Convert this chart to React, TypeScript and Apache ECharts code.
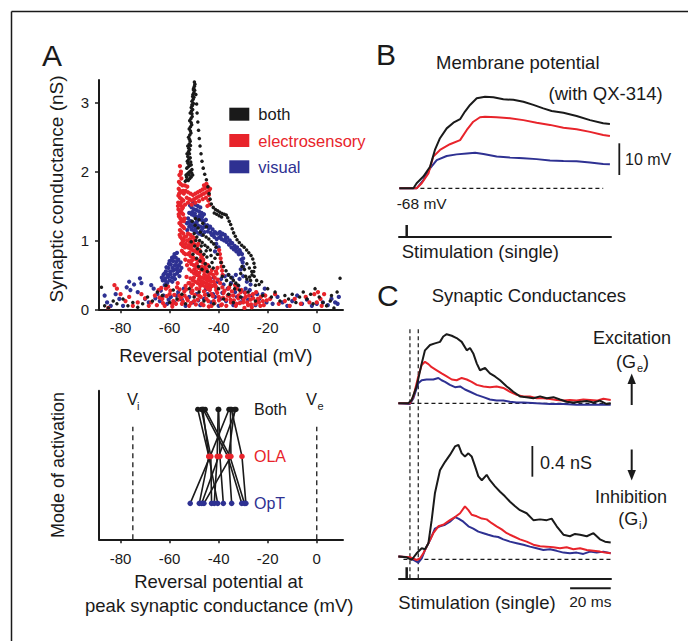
import React, { useEffect, useRef } from 'react';
import * as echarts from 'echarts';

const FONT = '"Liberation Sans", Arial, Helvetica, sans-serif';
const INK = '#1a1a1a';
const RED = '#e8242b';
const BLUE = '#2e3192';

// ---------- Panel A (top): reversal potential vs synaptic conductance ----------
const xTicksA = [-80, -60, -40, -20, 0];
const yTicksA = [0, 1, 2, 3];

const bothPts = [
  [-53.6,1.86],[-53.0,1.88],[-52.4,1.87],[-51.8,1.9],[-51.2,1.92],[-50.6,1.95],
  [-53.3,1.95],[-52.7,1.97],[-52.1,1.99],[-51.5,2.01],[-50.9,2.03],
  [-53.0,2.05],[-52.4,2.07],[-51.8,2.09],[-51.2,2.1],
  [-52.8,2.15],[-52.2,2.18],[-51.6,2.2],[-52.9,2.26],[-52.3,2.29],[-51.8,2.32],
  [-52.6,2.37],[-52.0,2.4],[-51.6,2.44],[-52.3,2.5],[-51.8,2.53],[-51.3,2.56],
  [-52.0,2.62],[-51.5,2.65],[-51.0,2.68],[-51.8,2.74],[-51.3,2.77],[-50.8,2.8],
  [-51.6,2.85],[-51.1,2.88],[-50.6,2.9],[-51.2,2.93],[-50.7,2.96],[-50.3,2.99],
  [-50.9,3.02],[-50.4,3.05],[-50.1,3.08],[-50.5,3.12],[-50.1,3.15],[-49.8,3.18],
  [-50.2,3.21],[-49.9,3.24],[-49.7,3.27],[-49.9,3.3],
  [-53.1,1.92],[-52.0,1.95],[-51.0,1.98],[-52.5,2.12],[-51.4,2.14],[-52.6,2.22],[-51.9,2.26],
  [-52.2,2.34],[-51.5,2.38],[-51.9,2.47],[-51.5,2.59],[-51.2,2.71],[-50.9,2.84],[-50.9,2.97],
  [-50.6,3.09],[-50.3,3.19],
  [-49.3,3.12],[-49.0,2.98],[-48.8,2.85],[-48.5,2.72],[-48.2,2.6],[-47.9,2.48],[-47.6,2.37],
  [-47.2,2.26],[-46.8,2.15],[-46.3,2.05],[-45.7,1.96],[-45.0,1.88],[-44.4,1.78],[-43.9,1.68],
  [-43.5,1.6],[-43.0,1.53],[-42.2,1.48],[-41.3,1.45],[-40.4,1.43],[-39.5,1.41],[-38.6,1.39],
  [-37.7,1.38],[-36.9,1.37],[-36.3,1.33],[-35.7,1.28],[-35.1,1.23],[-34.5,1.17],[-33.9,1.11],
  [-33.2,1.06],[-32.5,1.01],[-31.6,0.97],[-30.6,0.93],[-29.6,0.9],[-28.6,0.86],[-27.7,0.82],
  [-26.8,0.78],[-26.1,0.73],[-25.6,0.67],[-25.3,0.61],[-25.7,0.55],[-26.4,0.5],[-27.4,0.47],[-28.5,0.44],
  [-41.8,1.4],[-40.8,1.38],[-39.8,1.36],[-38.8,1.34],
  [-50.8,1.28],[-49.6,1.22],[-48.4,1.18],[-47.5,1.12],[-46.3,1.08],[-45.1,1.05],[-44.0,1.02],
  [-43.0,0.98],[-42.0,0.95],[-41.1,0.9],[-50.0,1.1],[-48.9,1.05],[-47.8,1.0],[-46.7,0.97],
  [-45.6,0.93],[-44.5,0.9],[-43.4,0.86],[-51.2,0.98],[-49.8,0.92],[-48.6,0.88],[-47.3,0.84],
  [-46.0,0.8],[-44.8,0.76],[-50.5,0.8],[-49.0,0.74],[-47.6,0.7],[-45.5,0.66],[-43.8,0.62],
  [-42.2,0.6],[-49.5,1.32],[-48.0,1.3],[-46.5,1.25],[-45.0,1.2],
  [-49.3,1.0],[-47.1,0.92],[-45.1,0.85],[-43.1,0.78],[-41.5,0.74],[-40.5,0.8],[-48.2,0.62],
  [-46.8,0.58],[-44.6,0.55],[-42.7,0.68],
  [-39.0,0.68],[-38.0,0.62],[-37.0,0.56],[-36.0,0.5],[-35.0,0.46],[-34.0,0.42],[-33.0,0.38],
  [-32.0,0.35],[-38.5,0.48],[-36.8,0.42],[-35.2,0.36],[-33.5,0.3],[-31.5,0.28],
  [-30.5,0.62],[-29.5,0.58],[-28.5,0.66],[-27.5,0.6],[-26.5,0.55],[-25.5,0.48],[-24.5,0.42],
  [-23.5,0.36],[-22.5,0.4],[-31.0,0.52],[-29.0,0.48],[-27.0,0.42],[-25.0,0.35],
  [-87.8,0.32],[-86.5,0.05],[-85.0,0.02],[-83.0,0.12],[-81.5,0.08],[-79.0,0.15],[-77.0,0.05],
  [-75.0,0.1],[-73.0,0.03],[-71.0,0.08],[-69.0,0.18],[-67.0,0.12],[-65.0,0.25],[-63.0,0.2],
  [-61.5,0.35],[-60.0,0.1],[-58.5,0.28],[-57.0,0.15],[-55.0,0.22],[-53.5,0.08],[-52.0,0.3],
  [-50.0,0.18],[-48.0,0.25],[-46.0,0.12],[-44.0,0.2],[-42.0,0.08],[-40.0,0.3],[-38.0,0.15],
  [-36.0,0.22],[-34.0,0.1],[-31.0,0.18],[-28.0,0.25],[-25.0,0.12],[-22.0,0.2],[-20.0,0.3],
  [-18.5,0.18],[-17.0,0.25],[-15.0,0.12],[-13.0,0.2],[-11.5,0.15],[-10.0,0.22],[-8.5,0.1],
  [-7.0,0.18],[-5.5,0.25],[-4.0,0.15],[-2.5,0.22],[-0.7,0.3],[1.0,0.18],[2.5,0.1],[4.0,0.05],
  [5.5,0.12],[7.0,0.02],[8.3,0.25],[9.5,0.45],[6.0,0.2],[-1.5,0.08]
];

const elecPts = [
  [-55.8,2.08],[-55.4,2.0],[-56.0,1.95],[-55.2,1.9],[-56.2,1.85],[-55.6,1.82],[-54.8,1.8],
  [-56.3,1.75],[-55.7,1.72],[-55.0,1.7],[-54.2,1.68],[-56.4,1.65],[-55.8,1.62],[-55.1,1.6],
  [-54.4,1.58],[-56.5,1.55],[-55.9,1.52],[-55.2,1.5],[-54.6,1.48],[-56.4,1.45],[-55.8,1.42],
  [-55.1,1.4],[-54.5,1.38],[-56.2,1.35],[-55.6,1.32],[-54.9,1.3],[-54.2,1.28],[-56.0,1.25],
  [-55.3,1.22],[-54.6,1.2],[-55.8,1.15],[-55.1,1.12],[-54.4,1.1],[-55.6,1.05],[-54.9,1.02],
  [-54.2,1.0],[-55.3,0.95],[-54.6,0.92],[-53.8,0.9],[-55.0,0.85],[-54.3,0.82],[-53.6,0.8],
  [-55.5,1.97],[-56.1,1.68],[-54.5,1.72],[-55.4,1.55],[-54.9,1.46],[-56.3,1.38],[-55.4,1.27],
  [-54.1,1.18],[-55.9,1.08],[-54.8,0.97],[-53.9,1.05],[-56.6,1.5],[-53.9,1.32],[-53.7,1.52],
  [-53.5,1.72],[-52.5,1.7],[-51.5,1.68],[-50.5,1.66],[-49.5,1.68],[-48.5,1.7],[-47.5,1.72],
  [-46.5,1.74],[-45.5,1.76],[-44.5,1.78],[-43.5,1.75],[-53.0,1.62],[-52.0,1.6],[-51.0,1.58],
  [-50.0,1.6],[-49.0,1.62],[-48.0,1.64],[-47.0,1.66],[-46.0,1.68],[-45.0,1.7],[-44.0,1.66],
  [-52.5,1.55],[-51.0,1.52],[-49.5,1.55],[-48.0,1.57],[-46.5,1.6],[-45.2,1.62],[-44.2,1.58],
  [-43.6,1.52],[-44.6,1.5],[-53.8,1.8],[-52.8,1.78],[-46.0,1.8],[-45.0,1.82],[-44.0,1.72],
  [-52.5,1.1],[-51.5,1.08],[-50.5,1.05],[-49.5,1.03],[-52.8,1.0],[-51.8,0.98],[-50.8,0.96],
  [-49.8,0.94],[-48.8,0.92],[-52.6,0.9],[-51.6,0.88],[-50.6,0.86],[-49.6,0.84],[-48.6,0.82],
  [-47.6,0.8],[-46.6,0.78],[-52.4,0.8],[-51.4,0.77],[-50.4,0.75],[-49.4,0.73],[-48.4,0.71],
  [-47.4,0.7],[-46.4,0.68],[-45.4,0.66],[-44.4,0.64],[-52.2,0.7],[-51.2,0.66],[-50.2,0.64],
  [-49.2,0.62],[-48.2,0.6],[-47.2,0.58],[-46.2,0.56],[-45.2,0.55],[-44.2,0.53],[-43.2,0.52],
  [-42.2,0.5],[-52.0,0.58],[-51.0,0.55],[-50.0,0.52],[-49.0,0.5],[-48.0,0.48],[-47.0,0.46],
  [-46.0,0.45],[-45.0,0.43],[-44.0,0.42],[-43.0,0.4],[-42.0,0.4],[-51.5,0.45],[-50.5,0.42],
  [-49.5,0.4],[-48.5,0.38],[-47.5,0.36],[-46.5,0.35],[-45.5,0.33],[-44.5,0.32],[-43.5,0.31],
  [-51.7,1.02],[-50.3,0.99],[-49.1,0.87],[-48.3,0.95],[-47.8,0.86],[-47.1,0.75],[-46.3,0.72],
  [-45.7,0.61],[-44.9,0.58],[-44.1,0.47],[-43.4,0.45],[-42.8,0.57],[-41.6,0.46],[-41.1,0.55],
  [-40.4,0.43],[-52.9,0.64],[-51.9,0.82],[-50.9,0.71],[-49.9,0.58],[-48.9,0.66],[-47.9,0.53],
  [-46.9,0.62],[-45.9,0.5],[-44.9,0.38],[-43.9,0.36],[-42.6,0.34],[-53.1,0.47],[-52.3,0.38],
  [-51.2,0.33],[-50.1,0.46],[-49.2,0.55],[-48.1,0.43],[-47.2,0.41],[-46.1,0.39],[-45.1,0.48],
  [-53.4,0.95],[-53.6,0.72],[-53.2,1.06],[-52.1,0.93],[-51.1,0.91],
  [-39.8,0.86],[-39.5,0.8],[-39.2,0.74],[-39.0,0.68],[-38.8,0.62],[-38.6,0.56],[-38.4,0.5],
  [-40.5,0.6],[-40.8,0.52],
  [-67.5,0.1],[-66.0,0.2],[-64.5,0.28],[-63.0,0.15],[-61.5,0.3],[-60.0,0.22],[-58.5,0.12],
  [-57.0,0.32],[-56.0,0.2],[-55.0,0.08],[-54.0,0.26],[-53.0,0.16],[-52.0,0.05],[-51.0,0.24],
  [-50.0,0.12],[-49.0,0.3],[-48.0,0.2],[-47.0,0.08],[-46.0,0.26],[-45.0,0.15],[-44.0,0.04],
  [-43.0,0.22],[-42.0,0.12],[-41.0,0.28],[-40.0,0.18],[-39.0,0.06],[-38.0,0.24],[-37.0,0.14],
  [-36.0,0.3],[-35.0,0.1],[-34.0,0.2],[-33.0,0.05],[-32.0,0.16],[-31.0,0.25],[-30.0,0.1],
  [-29.0,0.18],[-28.0,0.06],[-27.0,0.14],[-26.0,0.22],[-25.0,0.08],[-24.0,0.15],[-23.0,0.05],
  [-22.0,0.12],[-21.0,0.2],[-62.0,0.05],[-59.0,0.08],[-56.5,0.14],[-53.5,0.34],[-50.5,0.36],
  [-47.5,0.34],[-44.5,0.3],[-41.5,0.36],[-38.5,0.32],[-35.5,0.2],[-32.5,0.3],[-29.5,0.02],[-26.5,0.03],
  [-65.2,0.06],[-64.1,0.17],[-63.4,0.31],[-62.7,0.09],[-61.2,0.19],[-60.6,0.33],[-59.7,0.27],
  [-58.9,0.04],[-58.1,0.21],[-57.4,0.08],[-56.7,0.38],[-55.9,0.29],[-55.3,0.17],[-54.6,0.11],
  [-53.9,0.2],[-53.2,0.29],[-52.6,0.13],[-51.8,0.38],[-51.3,0.09],[-50.7,0.27],[-49.8,0.21],
  [-49.3,0.07],[-48.6,0.14],[-47.9,0.29],[-47.3,0.18],[-46.7,0.4],[-46.2,0.06],[-45.6,0.21],
  [-44.8,0.36],[-44.2,0.12],[-43.6,0.28],[-42.9,0.05],[-42.4,0.19],[-41.7,0.09],[-41.2,0.33],
  [-40.6,0.24],[-39.9,0.13],[-39.4,0.38],[-38.7,0.07],[-38.2,0.17],[-37.6,0.27],[-36.9,0.05],
  [-36.3,0.2],[-35.7,0.32],[-35.2,0.14],[-34.6,0.26],[-33.8,0.13],[-33.3,0.35],[-32.7,0.08],
  [-31.9,0.2],[-31.4,0.09],[-30.7,0.28],[-29.8,0.14],[-29.2,0.24],[-28.4,0.1],[-27.6,0.2],
  [-26.8,0.07],[-25.9,0.16],[-24.7,0.25],[-23.6,0.1],[-22.8,0.18],[-21.6,0.06],[-20.4,0.13],
  [-85.0,0.02],[-82.5,0.35],[-81.5,0.3],[-80.0,0.22],[-78.0,0.12],[-76.5,0.18],[-75.0,0.05],
  [-73.0,0.1],[-71.5,0.22],[-70.0,0.16],[-68.5,0.05],
  [-19.0,0.15],[-17.0,0.22],[-15.5,0.08],[-13.0,0.12],[-11.0,0.05],[-9.0,0.15],[-6.5,0.08],
  [-4.5,0.18],[-3.0,0.1],[-1.0,0.22],[0.5,0.25],[1.5,0.15],[2.0,0.05],[3.0,0.22],[0.0,0.1]
];

const visPts = [
  [-50.5,1.55],[-49.5,1.52],[-48.5,1.5],[-47.5,1.48],[-51.0,1.48],[-50.0,1.45],[-49.0,1.44],
  [-48.0,1.42],[-47.0,1.4],[-46.0,1.38],[-52.0,1.4],[-51.0,1.38],[-50.0,1.36],[-49.0,1.34],
  [-48.0,1.32],[-47.0,1.3],[-46.0,1.28],[-45.2,1.3],[-52.5,1.32],[-51.5,1.28],[-50.5,1.26],
  [-49.5,1.24],[-48.5,1.22],[-47.5,1.2],[-46.5,1.18],[-45.5,1.2],[-52.0,1.2],[-51.0,1.16],
  [-50.0,1.14],[-49.0,1.12],[-48.0,1.1],[-46.8,1.08],[-53.0,1.25],[-52.8,1.15],[-44.6,1.22],[-44.0,1.18],
  [-51.7,1.51],[-50.8,1.41],[-49.7,1.39],[-48.8,1.28],[-47.8,1.36],[-46.8,1.34],[-45.9,1.23],
  [-49.3,1.18],[-50.4,1.2],[-51.4,1.22],[-52.3,1.26],[-47.2,1.14],[-45.8,1.12],[-44.4,1.13],
  [-43.2,1.11],[-42.0,1.09],[-39.1,1.07],[-37.1,1.03],[-35.1,0.97],[-33.1,0.88],[-31.2,0.83],[-30.7,0.72],
  [-43.5,1.2],[-42.5,1.16],[-41.5,1.12],[-40.5,1.1],[-39.5,1.12],[-38.5,1.1],[-37.5,1.08],
  [-36.5,1.04],[-35.5,1.0],[-34.5,0.96],[-33.5,0.92],[-32.5,0.9],[-31.5,0.86],[-30.5,0.8],
  [-30.0,0.74],[-30.2,0.68],[-42.8,1.08],[-41.8,1.05],[-40.8,1.02],[-39.8,1.04],[-38.8,1.02],
  [-37.8,1.0],[-36.8,0.98],[-35.8,0.94],[-34.8,0.9],[-33.8,0.87],[-32.8,0.84],[-31.8,0.8],
  [-41.0,0.95],[-40.0,0.9],[-41.5,0.84],
  [-62.5,0.5],[-61.5,0.55],[-60.5,0.6],[-59.5,0.65],[-58.5,0.7],[-57.5,0.75],[-56.5,0.72],
  [-55.5,0.68],[-62.8,0.42],[-61.8,0.45],[-60.8,0.5],[-59.8,0.55],[-58.8,0.6],[-57.8,0.64],
  [-56.8,0.6],[-55.8,0.56],[-62.0,0.35],[-61.0,0.38],[-60.0,0.42],[-59.0,0.46],[-58.0,0.5],
  [-57.0,0.52],[-56.0,0.48],[-59.0,0.75],[-58.0,0.8],[-57.0,0.82],[-60.0,0.7],
  [-63.2,0.46],[-62.1,0.52],[-61.3,0.61],[-60.3,0.66],[-59.3,0.71],[-58.3,0.76],[-57.2,0.69],
  [-56.2,0.64],[-61.6,0.41],[-60.6,0.47],[-59.6,0.51],[-58.6,0.56],[-57.6,0.58],[-56.6,0.55],
  [-55.2,0.6],[-58.9,0.4],[-57.8,0.44],
  [-45.0,0.45],[-43.5,0.42],[-42.0,0.46],[-40.5,0.4],[-39.0,0.44],[-37.5,0.48],[-36.0,0.5],
  [-34.5,0.46],[-33.0,0.5],[-31.5,0.44],[-30.0,0.48],[-28.5,0.4],[-27.0,0.36],[-44.0,0.34],
  [-41.0,0.32],[-38.0,0.36],[-35.0,0.38],[-32.0,0.34],[-29.0,0.3],[-31.0,0.58],[-30.0,0.62],
  [-66.5,0.3],[-65.0,0.22],[-64.0,0.12],[-62.5,0.2],[-61.0,0.08],[-59.5,0.18],[-58.0,0.1],
  [-56.5,0.25],[-55.0,0.14],[-53.5,0.05],[-52.0,0.18],[-50.5,0.1],[-49.0,0.22],[-47.5,0.06],
  [-46.0,0.15],[-44.5,0.22],[-43.0,0.1],[-41.5,0.18],[-40.0,0.05],[-38.5,0.24],[-37.0,0.12],
  [-35.5,0.2],[-34.0,0.06],[-32.5,0.18],[-31.0,0.1],[-29.5,0.25],[-28.0,0.14],[-26.5,0.2],
  [-25.0,0.06],[-23.5,0.15],[-22.0,0.22],[-20.5,0.1],
  [-65.8,0.16],[-63.6,0.27],[-60.4,0.14],[-57.3,0.2],[-54.2,0.3],[-51.2,0.25],[-48.3,0.13],
  [-45.2,0.29],[-42.3,0.22],[-39.3,0.15],[-36.3,0.3],[-33.3,0.25],[-30.3,0.16],[-27.3,0.28],
  [-24.3,0.22],[-21.2,0.3],
  [-86.5,0.2],[-85.5,0.1],[-84.0,0.05],[-82.0,0.22],[-80.5,0.15],[-79.0,0.05],[-77.5,0.32],
  [-76.0,0.28],[-74.5,0.36],[-73.0,0.25],[-71.5,0.38],[-70.0,0.15],[-68.5,0.1],[-67.5,0.35],
  [-72.1,0.45],[-76.5,0.4],
  [-18.0,0.08],[-16.0,0.18],[-14.0,0.1],[-12.0,0.05],[-10.0,0.12],[-8.0,0.2],[-6.0,0.08],
  [-4.0,0.14],[-2.0,0.05],[0.0,0.08],[2.5,0.1],[4.5,0.06],[6.0,0.15],[7.5,0.1],[8.5,0.08],[9.0,0.18]
];

// ---------- Panel A (bottom): mode of activation ----------
const modeLevels = { Both: 3, OLA: 2, OpT: 1 };
const cellBoth = [-48.5, -47.0, -46.3, -45.5, -40.2, -40.0, -35.8, -35.2, -34.8, -33.0, -33.5, -46.5];
const cellOLA  = [-44.0, -43.2, -36.3, -35.4, -40.6, -39.5, -43.5, -35.0, -30.5, -40.0, -36.0, -44.0];
const cellOpT  = [-47.9, -42.9, -30.6, -29.5, -41.8, -38.1, -51.6, -46.0, -28.9, -46.9, -34.7, -40.4];
const V_I = -75;
const V_E = 0;

// ---------- Panel B: membrane potential (ms, mV above -68 mV) ----------
const bBlack = [[-3.6,0],[3.3,0],[4.9,1.6],[8.2,3.7],[11.5,6.8],[13.9,12.1],[16.4,15.8],[19.7,18.9],
  [23.0,20.7],[26.3,21.8],[28.7,24.2],[31.2,26.3],[34.5,28.4],[38.6,28.9],[42.7,28.7],[47.6,28.1],
  [52.5,27.9],[57.5,27.3],[62.4,26.3],[67.3,25.2],[71.4,24.4],[77.2,23.8],[83.7,22.8],[90.3,21.5],
  [96.8,20.5],[100.1,20.3]];
const bRed = [[-3.6,0],[4.9,0],[7.4,1.6],[10.7,4.7],[13.1,10.0],[16.4,12.1],[21.3,13.9],[26.3,15.2],
  [29.6,18.4],[32.8,21.0],[36.1,22.4],[38.6,22.6],[44.3,22.4],[50.9,22.1],[57.5,21.5],[64.0,20.7],
  [70.6,20.0],[77.2,19.1],[83.7,18.6],[90.3,17.8],[96.8,16.8],[100.1,16.5]];
const bBlue = [[-3.6,0],[4.9,0],[8.2,2.6],[11.5,6.3],[14.8,8.9],[19.7,10.2],[24.6,10.7],[29.6,11.0],
  [33.7,11.2],[37.8,10.8],[44.3,10.0],[50.9,9.7],[57.5,9.5],[64.0,9.2],[70.6,8.8],[77.2,8.6],
  [83.7,8.5],[90.3,8.1],[96.8,7.7],[100.1,7.6]];

// ---------- Panel C: synaptic conductances (ms, nS) ----------
const geBlack = [[-4.1,0],[0.8,0],[2.4,0.04],[4.9,0.22],[7.4,0.52],[9.0,0.69],[11.5,0.76],[13.9,0.78],
  [16.4,0.80],[18.0,0.87],[19.7,0.90],[22.2,0.88],[24.6,0.85],[27.1,0.80],[29.6,0.69],[31.2,0.72],
  [32.8,0.65],[34.5,0.52],[36.1,0.43],[38.6,0.46],[41.0,0.39],[43.5,0.35],[46.0,0.30],[49.3,0.22],
  [52.5,0.15],[55.8,0.09],[59.1,0.08],[62.4,0.065],[65.7,0.09],[69.0,0.065],[72.3,0.08],[75.5,0.05],
  [78.8,0.02],[82.1,0.01],[85.4,0.02],[88.7,0.03],[92.0,0.01],[95.2,0.035],[98.5,-0.01],[100.5,0]];
const geRed = [[-4.1,0],[1.6,0],[3.3,0.09],[5.7,0.35],[7.4,0.50],[9.0,0.54],[10.7,0.51],[12.3,0.47],
  [14.8,0.43],[17.2,0.39],[19.7,0.35],[22.2,0.31],[24.6,0.30],[27.1,0.33],[29.6,0.31],[32.0,0.28],
  [34.5,0.24],[37.8,0.22],[41.0,0.21],[44.3,0.22],[47.6,0.20],[50.9,0.15],[54.2,0.11],[57.5,0.09],
  [60.7,0.09],[64.0,0.065],[67.3,0.065],[70.6,0.056],[73.9,0.043],[77.2,0.035],[80.4,0.043],
  [83.7,0.035],[87.0,0.05],[90.3,0.043],[93.6,0.035],[96.9,0.06],[100.5,0.043]];
const geBlue = [[-4.1,0],[1.6,-0.01],[3.3,0.065],[5.7,0.26],[7.4,0.30],[9.8,0.31],[13.1,0.31],
  [15.6,0.33],[17.2,0.30],[18.9,0.28],[21.3,0.24],[23.8,0.21],[26.3,0.22],[28.7,0.18],[31.2,0.15],
  [34.5,0.11],[37.8,0.08],[41.0,0.05],[44.3,0.035],[47.6,0.035],[50.9,0.02],[54.2,0.01],[57.5,0.01],
  [64.0,0],[70.6,-0.01],[77.2,-0.01],[83.7,-0.02],[90.3,-0.02],[96.9,-0.02],[100.5,-0.02]];
const giBlack = [[-4.1,0.035],[0,0.026],[2.4,-0.009],[4.9,0.078],[7.4,0.143],[9.0,0.13],[10.7,0.21],
  [12.3,0.51],[13.9,0.86],[16.4,1.16],[18.9,1.27],[21.3,1.36],[23.8,1.47],[25.5,1.49],[27.1,1.38],
  [28.7,1.34],[30.4,1.38],[32.0,1.34],[33.7,1.21],[35.3,1.08],[37.0,1.03],[39.4,1.10],[41.0,1.03],
  [43.5,0.95],[46.0,0.88],[48.4,0.82],[50.9,0.75],[53.4,0.69],[55.8,0.64],[59.1,0.60],[62.4,0.51],
  [65.7,0.52],[69.0,0.51],[71.4,0.53],[73.9,0.43],[77.2,0.32],[80.4,0.30],[82.9,0.33],[85.4,0.32],
  [88.7,0.30],[92.0,0.34],[95.2,0.26],[97.7,0.23],[100.5,0.22]];
const giRed = [[-4.1,0.035],[1.6,0.026],[4.9,-0.009],[6.6,0.013],[8.2,0.078],[10.7,0.21],[13.1,0.34],
  [15.6,0.43],[18.0,0.45],[21.3,0.51],[23.8,0.55],[26.3,0.60],[28.7,0.69],[30.4,0.64],[32.0,0.58],
  [34.5,0.56],[37.0,0.53],[39.4,0.52],[41.9,0.47],[44.3,0.43],[46.8,0.39],[49.3,0.34],[52.5,0.30],
  [55.8,0.26],[59.1,0.23],[62.4,0.19],[65.7,0.17],[69.0,0.165],[72.2,0.156],[75.5,0.143],[78.8,0.156],
  [82.1,0.13],[85.4,0.143],[88.7,0.12],[92.0,0.11],[95.2,0.10],[97.7,0.087],[100.5,0.078]];
const giBlue = [[-4.1,0.035],[0.8,0.026],[3.3,-0.009],[5.7,-0.043],[7.4,0.013],[9.0,0.12],[11.5,0.25],
  [13.9,0.40],[16.4,0.43],[18.9,0.45],[21.3,0.49],[23.8,0.55],[25.5,0.53],[27.9,0.49],[30.4,0.43],
  [32.8,0.40],[35.3,0.36],[37.8,0.34],[40.2,0.32],[42.7,0.30],[45.1,0.29],[47.6,0.26],[50.9,0.23],
  [54.2,0.21],[57.5,0.19],[60.7,0.165],[64.0,0.143],[67.3,0.12],[70.6,0.13],[73.9,0.11],[77.2,0.087],
  [80.4,0.078],[83.7,0.087],[87.0,0.07],[90.3,0.10],[93.6,0.087],[96.9,0.10],[100.5,0.078]];
const stimTimes = [1.6, 5.7]; // dashed markers (ms)
const scaleMs = 20;
const scaleNS = 0.4;

// ---------- helpers ----------
const txt = (text: string, x: number, y: number, size: number, o: any = {}) => ({
  type: 'text', x, y, silent: true, rotation: o.rotation || 0, z: 10,
  style: {
    text, fontSize: size, fontFamily: FONT, fill: o.color || INK,
    align: o.align || 'left', verticalAlign: 'middle',
  },
});
const gline = (x1: number, y1: number, x2: number, y2: number, w = 1.5) => ({
  type: 'line', silent: true, z: 10,
  shape: { x1, y1, x2, y2 }, style: { stroke: INK, lineWidth: w },
});
const lineSeries = (name: string, data: any, color: string, xi: number, w = 2, extra: any = {}) => ({
  type: 'line', name, xAxisIndex: xi, yAxisIndex: xi, data, symbol: 'none', silent: true,
  lineStyle: { color, width: w, ...(extra.lineStyle || {}) }, z: extra.z || 3,
  clip: extra.clip !== undefined ? extra.clip : true,
});

const hiddenAxis = (gi: number, min: number, max: number) => ({
  type: 'value', gridIndex: gi, min, max, show: false, splitLine: { show: false },
});

export default function App() {
  const ref = useRef<HTMLDivElement>(null);
  useEffect(() => {
    if (!ref.current) return;
    const chart = echarts.init(ref.current, null, { renderer: 'svg' });

    const axisLineStyle = { show: true, onZero: false, lineStyle: { color: INK, width: 2 } };
    const tMin = -3.79, tMax = 100.64;

    const cellLines = cellBoth.map((b, i) => lineSeries('cell' + i,
      [[b, modeLevels.Both], [cellOLA[i], modeLevels.OLA], [cellOpT[i], modeLevels.OpT]], INK, 1, 1.6, { z: 3 }));

    const option: any = {
      animation: false,
      backgroundColor: '#fff',
      textStyle: { fontFamily: FONT },
      grid: [
        { left: 99, top: 80, width: 244, height: 229.3, containLabel: false, outerBoundsMode: 'none' },
        { left: 99, top: 390.7, width: 244, height: 148.6, containLabel: false, outerBoundsMode: 'none' },
        { left: 399, top: 80, width: 212, height: 156.7, containLabel: false, outerBoundsMode: 'none' },
        { left: 399, top: 320, width: 212, height: 100, containLabel: false, outerBoundsMode: 'none' },
        { left: 399, top: 440, width: 212, height: 138.3, containLabel: false, outerBoundsMode: 'none' },
      ],
      xAxis: [
        {
          type: 'value', gridIndex: 0, min: -88.8, max: 10.7, axisLine: axisLineStyle,
          axisTick: { show: true, customValues: xTicksA, length: 4, lineStyle: { color: INK, width: 1.5 } },
          axisLabel: { customValues: xTicksA, fontSize: 15, color: INK, margin: 11, fontFamily: FONT },
          splitLine: { show: false },
        },
        {
          type: 'value', gridIndex: 1, min: -88.8, max: 10.7, axisLine: axisLineStyle,
          axisTick: { show: true, customValues: xTicksA, length: 4, lineStyle: { color: INK, width: 1.5 } },
          axisLabel: { customValues: xTicksA, fontSize: 15, color: INK, margin: 12, fontFamily: FONT },
          splitLine: { show: false },
        },
        {
          type: 'value', gridIndex: 2, min: tMin, max: tMax, axisLine: axisLineStyle,
          axisTick: { show: false }, axisLabel: { show: false }, splitLine: { show: false },
        },
        hiddenAxis(3, tMin, tMax),
        {
          type: 'value', gridIndex: 4, min: tMin, max: tMax, axisLine: axisLineStyle,
          axisTick: { show: false }, axisLabel: { show: false }, splitLine: { show: false },
        },
      ],
      yAxis: [
        {
          type: 'value', gridIndex: 0, min: 0, max: 3.33, axisLine: axisLineStyle,
          axisTick: { show: true, customValues: yTicksA, length: 4, lineStyle: { color: INK, width: 1.5 } },
          axisLabel: { customValues: yTicksA, fontSize: 15, color: INK, margin: 10, fontFamily: FONT },
          splitLine: { show: false },
        },
        {
          type: 'value', gridIndex: 1, min: 0.234, max: 3.4, axisLine: axisLineStyle,
          axisTick: { show: false }, axisLabel: { show: false }, splitLine: { show: false },
        },
        hiddenAxis(2, -15.27, 34.16),
        hiddenAxis(3, -0.2176, 1.085),
        hiddenAxis(4, -0.2476, 1.554),
      ],
      legend: {
        data: [
          { name: 'both', textStyle: { color: INK } },
          { name: 'electrosensory', textStyle: { color: RED } },
          { name: 'visual', textStyle: { color: BLUE } },
        ],
        orient: 'vertical', left: 229.3, top: 105.7, itemWidth: 20, itemHeight: 13, itemGap: 9.3,
        icon: 'rect', selectedMode: false, padding: 0,
        textStyle: { fontSize: 16.5, fontFamily: FONT, lineHeight: 13, padding: [0, 0, 0, 4] },
      },
      series: [
        // Panel A top
        { type: 'scatter', name: 'visual', xAxisIndex: 0, yAxisIndex: 0, data: visPts, symbolSize: 4.3,
          itemStyle: { color: BLUE, opacity: 1 }, silent: true, z: 2 },
        { type: 'scatter', name: 'electrosensory', xAxisIndex: 0, yAxisIndex: 0, data: elecPts, symbolSize: 4.3,
          itemStyle: { color: RED, opacity: 1 }, silent: true, z: 3 },
        { type: 'scatter', name: 'both', xAxisIndex: 0, yAxisIndex: 0, data: bothPts, symbolSize: 3.5,
          itemStyle: { color: INK, opacity: 1 }, silent: true, z: 4 },
        // Panel A bottom
        lineSeries('Vi', [[V_I, 0.234], [V_I, 2.63]], INK, 1, 1.3, { lineStyle: { type: [5, 4] } }),
        lineSeries('Ve', [[V_E, 0.234], [V_E, 2.63]], INK, 1, 1.3, { lineStyle: { type: [5, 4] } }),
        ...cellLines,
        { type: 'scatter', name: 'BothDots', xAxisIndex: 1, yAxisIndex: 1, symbolSize: 5.5, silent: true, z: 5,
          data: cellBoth.map(v => [v, modeLevels.Both]), itemStyle: { color: INK, opacity: 1 } },
        { type: 'scatter', name: 'OLADots', xAxisIndex: 1, yAxisIndex: 1, symbolSize: 5.5, silent: true, z: 5,
          data: cellOLA.map(v => [v, modeLevels.OLA]), itemStyle: { color: RED, opacity: 1 } },
        { type: 'scatter', name: 'OpTDots', xAxisIndex: 1, yAxisIndex: 1, symbolSize: 5.5, silent: true, z: 5,
          data: cellOpT.map(v => [v, modeLevels.OpT]), itemStyle: { color: BLUE, opacity: 1 } },
        // Panel B
        lineSeries('bBase', [[-3.6, 0], [96.8, 0]], INK, 2, 1.2, { lineStyle: { type: [4, 3] }, z: 2 }),
        lineSeries('bBlue', bBlue, BLUE, 2, 2),
        lineSeries('bRed', bRed, RED, 2, 2),
        lineSeries('bBlack', bBlack, INK, 2, 2),
        lineSeries('bStim', [[0, -15.27], [0, -11.58]], INK, 2, 2.5),
        // Panel C excitation
        lineSeries('geBase', [[-1.6, 0], [100.5, 0]], INK, 3, 1.2, { lineStyle: { type: [4, 3] }, z: 2 }),
        lineSeries('geBlue', geBlue, BLUE, 3, 2),
        lineSeries('geRed', geRed, RED, 3, 2),
        lineSeries('geBlack', geBlack, INK, 3, 2),
        // Panel C inhibition
        lineSeries('giBase', [[-1.6, 0], [100.5, 0]], INK, 4, 1.2, { lineStyle: { type: [4, 3] }, z: 2 }),
        lineSeries('giBlue', giBlue, BLUE, 4, 2),
        lineSeries('giRed', giRed, RED, 4, 2),
        lineSeries('giBlack', giBlack, INK, 4, 2),
        lineSeries('cStim', [[0, -0.2476], [0, -0.104]], INK, 4, 2.5),
        ...stimTimes.map((t, i) => lineSeries('stimMark' + i, [[t, -0.2476], [t, 3.0]], INK, 4, 1.2,
          { lineStyle: { type: [4, 3] }, clip: false, z: 2 })),
        lineSeries('nsScale', [[61.9, 1.076], [61.9, 1.076 + scaleNS]], INK, 4, 1.8, { clip: false }),
        lineSeries('msScale', [[100.5 - scaleMs, -0.378], [100.5, -0.378]], INK, 4, 2, { clip: false }),
      ],
      graphic: [
        gline(11.5, 11.5, 688, 11.5, 1.5),
        gline(11.5, 11.5, 11.5, 641, 1.5),
        txt('A', 42, 55, 30),
        txt('B', 376, 54, 30),
        txt('C', 377, 295, 30),
        // Panel A top titles
        txt('Reversal potential (mV)', 215.8, 355, 18.5, { align: 'center' }),
        txt('Synaptic conductance (nS)', 56.7, 189, 19, { align: 'center', rotation: Math.PI / 2 }),
        // Panel A bottom
        txt('V', 127, 399, 16.5),
        txt('i', 137, 405.5, 11),
        txt('V', 306, 399, 16.5),
        txt('e', 317.5, 406, 11),
        txt('Both', 254, 409, 16),
        txt('OLA', 254, 456, 16, { color: RED }),
        txt('OpT', 254, 503, 16, { color: BLUE }),
        txt('Mode of activation', 58.3, 465, 18, { align: 'center', rotation: Math.PI / 2 }),
        txt('Reversal potential at', 218.5, 581.7, 18.5, { align: 'center' }),
        txt('peak synaptic conductance (mV)', 219.2, 605, 18.5, { align: 'center' }),
        // Panel B
        txt('Membrane potential', 436, 62.7, 18.5),
        txt('(with QX-314)', 662.7, 93.3, 18.5, { align: 'right' }),
        gline(619.3, 143.3, 619.3, 175, 1.8),
        txt('10 mV', 625, 159, 16),
        txt('-68 mV', 396.7, 203.3, 15.5),
        txt('Stimulation (single)', 401.7, 251.7, 18.5),
        // Panel C
        txt('Synaptic Conductances', 431.7, 295, 18.5),
        txt('Excitation', 632, 338.3, 18, { align: 'center' }),
        txt('(G', 616, 361.7, 18),
        txt('e', 637, 367.5, 11),
        txt(')', 643, 361.7, 18),
        txt('Inhibition', 631, 496.7, 18, { align: 'center' }),
        txt('(G', 618.3, 519.3, 18),
        txt('i', 639, 525, 11),
        txt(')', 642, 519.3, 18),
        txt('0.4 nS', 540, 462.7, 18),
        txt('Stimulation (single)', 398.3, 602.7, 18.5),
        txt('20 ms', 590.3, 601.5, 15.5, { align: 'center' }),
        gline(631.7, 405, 631.7, 381, 2),
        { type: 'polygon', silent: true, z: 10, shape: { points: [[631.7, 373.5], [627.5, 384], [635.9, 384]] }, style: { fill: INK } },
        gline(631.7, 449.5, 631.7, 473, 2),
        { type: 'polygon', silent: true, z: 10, shape: { points: [[631.7, 480.5], [627.5, 470], [635.9, 470]] }, style: { fill: INK } },
      ],
    };

    chart.setOption(option);
    return () => chart.dispose();
  }, []);

  return (
    <div
      ref={ref}
      style={{ position: 'fixed', left: 0, top: 0, width: 688, height: 641, background: '#fff' }}
    />
  );
}
